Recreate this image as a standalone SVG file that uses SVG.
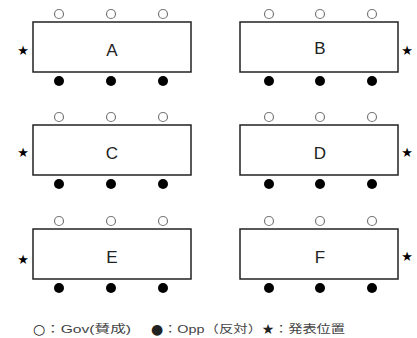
<svg xmlns="http://www.w3.org/2000/svg" width="417" height="338" viewBox="0 0 417 338">
<style>
.tbl{fill:#fff;stroke:#222;stroke-width:1.5}
.gov{fill:#fff;stroke:#777;stroke-width:1.2}
.opp{fill:#000}
.lbl{font-family:"Liberation Sans",Arial,sans-serif;font-size:17px;fill:#222;text-anchor:middle}
.star{font-family:"DejaVu Sans",sans-serif;font-size:13px;fill:#000;text-anchor:middle}
.leg{font-family:"Liberation Sans","Noto Sans CJK JP",sans-serif;font-size:11px;fill:#444}
.sym{font-family:"DejaVu Sans",sans-serif;font-size:14px;fill:#222;text-anchor:middle}
</style>
<defs>
<g id="seatsL">
<circle class="gov" cx="59" cy="-8" r="4.5"/><circle class="gov" cx="111" cy="-8" r="4.5"/><circle class="gov" cx="163" cy="-8" r="4.5"/>
<circle class="opp" cx="59" cy="59" r="5"/><circle class="opp" cx="111" cy="59" r="5"/><circle class="opp" cx="163" cy="59" r="5"/>
</g>
<g id="seatsR">
<circle class="gov" cx="269" cy="-8" r="4.5"/><circle class="gov" cx="320" cy="-8" r="4.5"/><circle class="gov" cx="372" cy="-8" r="4.5"/>
<circle class="opp" cx="269" cy="59" r="5"/><circle class="opp" cx="320" cy="59" r="5"/><circle class="opp" cx="372" cy="59" r="5"/>
</g>
</defs>
<g id="connectors"></g>
<g id="A" transform="translate(0,22)">
<rect class="tbl" x="33" y="0" width="158" height="50"/><use href="#seatsL"/>
<text class="lbl" x="112" y="34">A</text><text class="star" x="23" y="33">★</text>
</g>
<g id="B" transform="translate(0,22)">
<rect class="tbl" x="240" y="0" width="158" height="50"/><use href="#seatsR"/>
<text class="lbl" x="320" y="32">B</text><text class="star" x="407" y="33">★</text>
</g>
<g id="C" transform="translate(0,125)">
<rect class="tbl" x="33" y="0" width="158" height="50"/><use href="#seatsL"/>
<text class="lbl" x="112" y="34">C</text><text class="star" x="23" y="32">★</text>
</g>
<g id="D" transform="translate(0,125)">
<rect class="tbl" x="240" y="0" width="158" height="50"/><use href="#seatsR"/>
<text class="lbl" x="320" y="34">D</text><text class="star" x="407" y="32">★</text>
</g>
<g id="E" transform="translate(0,229)">
<rect class="tbl" x="33" y="0" width="158" height="50"/><use href="#seatsL"/>
<text class="lbl" x="112" y="34">E</text><text class="star" x="23" y="35">★</text>
</g>
<g id="F" transform="translate(0,229)">
<rect class="tbl" x="240" y="0" width="158" height="50"/><use href="#seatsR"/>
<text class="lbl" x="320" y="34">F</text><text class="star" x="407" y="32">★</text>
</g>
<g id="legend">
<text class="sym" x="39" y="334">○</text>
<text class="leg" x="45" y="333" textLength="86" lengthAdjust="spacingAndGlyphs">：Gov(賛成)</text>
<text class="sym" x="157" y="334">●</text>
<text class="leg" x="163" y="333" textLength="99" lengthAdjust="spacingAndGlyphs">：Opp（反対）</text>
<text class="sym" x="268" y="334">★</text>
<text class="leg" x="274" y="333" textLength="71" lengthAdjust="spacingAndGlyphs">：発表位置</text>
</g>
</svg>
